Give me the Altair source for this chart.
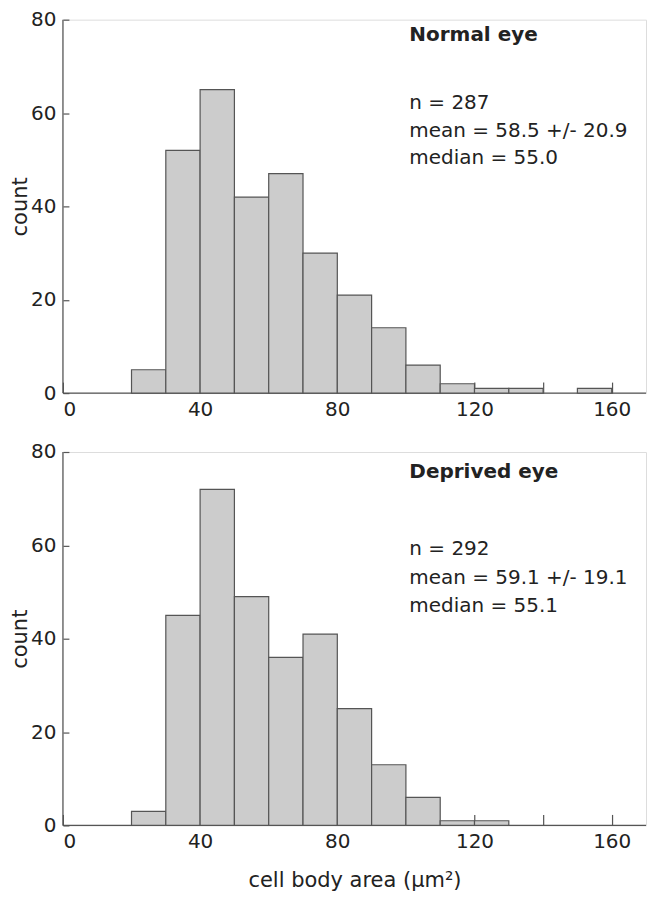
import altair as alt
import pandas as pd

# ---- data ----
bin_start = [20, 30, 40, 50, 60, 70, 80, 90, 100, 110, 120, 130, 140, 150]
bin_end = [30, 40, 50, 60, 70, 80, 90, 100, 110, 120, 130, 140, 150, 160]
normal_counts = [5, 52, 65, 42, 47, 30, 21, 14, 6, 2, 1, 1, 0, 1]
deprived_counts = [3, 45, 72, 49, 36, 41, 25, 13, 6, 1, 1, 0, 0, 0]

x_ticks = [0, 20, 40, 60, 80, 100, 120, 140, 160]
y_ticks = [0, 20, 40, 60, 80]

normal_title = "Normal eye"
normal_stats = ["n = 287", "mean = 58.5 +/- 20.9", "median = 55.0"]
deprived_title = "Deprived eye"
deprived_stats = ["n = 292", "mean = 59.1 +/- 19.1", "median = 55.1"]

# annotation anchor positions in data units (x, y of each line)
normal_text_x = 101
normal_text_y = [76.8, 62.2, 56.1, 50.3]
deprived_text_x = 101
deprived_text_y = [75.8, 59.2, 53.1, 47.0]

FONT = "DejaVu Sans"
GREY = "#555555"
TXT = "#222222"
W, H = 584, 374


def panel(counts, title, stats, tx, ty, show_xtitle):
    df = pd.DataFrame({"start": bin_start, "end": bin_end, "count": counts})
    df = df[df["count"] > 0]
    xscale = alt.Scale(domain=[0, 170], nice=False, zero=False)
    yscale = alt.Scale(domain=[0, 80], nice=False)

    xaxis = alt.Axis(
        values=x_ticks, tickSize=11, offset=-11, domain=False, grid=False,
        tickColor=GREY, tickWidth=1.2,
        labelExpr="datum.value % 40 == 0 ? datum.label : ''",
        labelPadding=6, labelFontSize=20, labelFont=FONT, labelColor=TXT,
        title="cell body area (μm²)" if show_xtitle else None,
        titleFont=FONT, titleFontSize=21, titleFontWeight="normal",
        titleColor=TXT, titlePadding=18,
    )
    yaxis = alt.Axis(
        values=y_ticks, tickSize=6, offset=-6, domain=False, grid=False,
        tickColor=GREY, tickWidth=1.2,
        labelPadding=7, labelFontSize=20, labelFont=FONT, labelColor=TXT,
        title="count", titleFont=FONT, titleFontSize=21,
        titleFontWeight="normal", titleColor=TXT, titlePadding=0,
    )

    bars = alt.Chart(df).mark_bar(
        fill="#cccccc", stroke=GREY, strokeWidth=1.2, opacity=1
    ).encode(
        x=alt.X("start:Q", scale=xscale, axis=xaxis),
        x2="end:Q",
        y=alt.Y("count:Q", scale=yscale, axis=yaxis),
        y2=alt.datum(0),
    )

    xline = alt.Chart(pd.DataFrame({"v": [0]})).mark_rule(
        color=GREY, strokeWidth=1.2
    ).encode(y=alt.Y("v:Q", scale=yscale))
    yline = alt.Chart(pd.DataFrame({"v": [0]})).mark_rule(
        color=GREY, strokeWidth=1.2
    ).encode(x=alt.X("v:Q", scale=xscale))

    tdf = pd.DataFrame({"x": [tx], "y": [ty[0]], "t": [title]})
    sdf = pd.DataFrame({"x": [tx] * len(stats), "y": ty[1:], "t": stats})
    ttext = alt.Chart(tdf).mark_text(
        align="left", baseline="middle", font=FONT, fontSize=20,
        fontWeight="bold", color=TXT
    ).encode(x=alt.X("x:Q", scale=xscale), y=alt.Y("y:Q", scale=yscale), text="t:N")
    stext = alt.Chart(sdf).mark_text(
        align="left", baseline="middle", font=FONT, fontSize=20,
        color=TXT
    ).encode(x=alt.X("x:Q", scale=xscale), y=alt.Y("y:Q", scale=yscale), text="t:N")

    return alt.layer(xline, yline, bars, ttext, stext).properties(width=W, height=H)


top = panel(normal_counts, normal_title, normal_stats, normal_text_x, normal_text_y, False)
bottom = panel(deprived_counts, deprived_title, deprived_stats, deprived_text_x, deprived_text_y, True)

chart = alt.vconcat(top, bottom, spacing=21).properties(
    padding={"left": 1, "right": 0, "top": 0, "bottom": 0}
).configure_view(stroke=None).configure(background="white")

chart.save("out.html", embed_options={"renderer": "svg", "actions": False})
